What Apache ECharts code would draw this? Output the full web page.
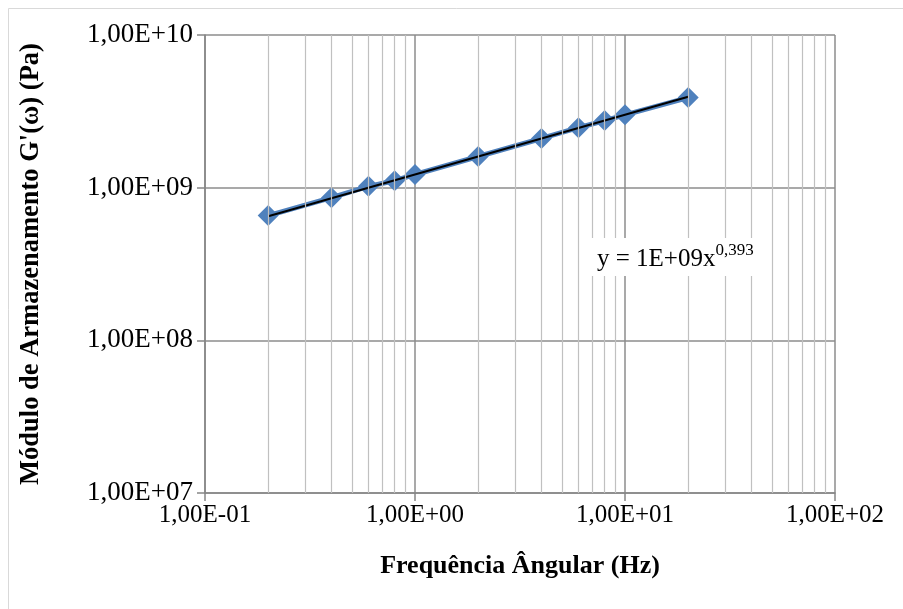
<!DOCTYPE html>
<html><head><meta charset="utf-8">
<script src="https://cdn.jsdelivr.net/npm/echarts@6/dist/echarts.min.js"></script>
<style>html,body{margin:0;padding:0;background:#fff}#c{width:903px;height:609px}</style>
</head><body><div id="c"></div>
<script>
const freq = [0.2, 0.4, 0.6, 0.8, 1, 2, 4, 6, 8, 10, 20];
const modulus = [6.56e8, 8.6e8, 1.02e9, 1.11e9, 1.22e9, 1.6e9, 2.1e9, 2.47e9, 2.75e9, 3.0e9, 3.89e9];
const trendX = [0.2, 20];
const trendY = [6.5e8, 3.94e9];
const minorX = [0.2,0.3,0.4,0.5,0.6,0.7,0.8,0.9,2,3,4,5,6,7,8,9,20,30,40,50,60,70,80,90];
const equation = 'y = 1E+09x';
const exponent = '0,393';
const xTitle = 'Frequência Ângular (Hz)';
const yTitle = "Módulo de Armazenamento G'(ω) (Pa)";

function sci(v){
  const e = Math.round(Math.log10(v));
  const a = Math.abs(e);
  return '1,00E' + (e < 0 ? '-' : '+') + (a < 10 ? '0' + a : '' + a);
}
const font = 'Liberation Serif';
const chart = echarts.init(document.getElementById('c'), null, {renderer:'canvas'});
chart.setOption({
  animation:false,
  backgroundColor:'#fff',
  grid:{left:205,right:68,top:35,bottom:116,containLabel:false},
  xAxis:{
    type:'log', logBase:10, min:0.1, max:100,
    axisLine:{show:true,onZero:false,lineStyle:{color:'#868686',width:1.5}},
    axisTick:{show:true,inside:false,length:8,lineStyle:{color:'#868686',width:1.5}},
    splitLine:{show:true,lineStyle:{color:'#8c8c8c',width:1.5}},
    minorTick:{show:false}, minorSplitLine:{show:false},
    axisLabel:{formatter:sci,fontFamily:font,fontSize:25,color:'#000',margin:10},
    name:xTitle, nameLocation:'middle', nameGap:60,
    nameTextStyle:{fontFamily:font,fontSize:26,fontWeight:'bold',color:'#000'}
  },
  yAxis:{
    type:'log', logBase:10, min:1e7, max:1e10,
    axisLine:{show:true,onZero:false,lineStyle:{color:'#868686',width:1.5}},
    axisTick:{show:true,inside:false,length:8,lineStyle:{color:'#868686',width:1.5}},
    splitLine:{show:true,lineStyle:{color:'#8c8c8c',width:1.5}},
    axisLabel:{formatter:sci,fontFamily:font,fontSize:27,color:'#000',margin:12},
    name:yTitle, nameLocation:'middle', nameGap:160, nameRotate:90,
    nameTextStyle:{fontFamily:font,fontSize:26.5,fontWeight:'bold',color:'#000'}
  },
  series:[
    {
      type:'line', data:[], silent:true, z:1,
      markLine:{
        silent:true, symbol:['none','none'], label:{show:false}, animation:false,
        lineStyle:{color:'#c0c0c0',width:1.2,type:'solid'},
        data:minorX.map(v=>({xAxis:v}))
      }
    },
    {
      type:'line', data:freq.map((f,i)=>[f,modulus[i]]), z:3,
      symbol:'diamond', symbolSize:21,
      lineStyle:{color:'#4F81BD',width:5},
      itemStyle:{color:'#4F81BD'}
    },
    {
      type:'line', data:trendX.map((f,i)=>[f,trendY[i]]), z:4,
      symbol:'none', lineStyle:{color:'#000',width:2}
    }
  ],
  graphic:[
    {type:'rect', z:0, shape:{x:8.5,y:8.5,width:920,height:620}, style:{fill:null,stroke:'#d9d9d9',lineWidth:1}},
    {type:'text', z:10, left:585, top:238,
     style:{
       text:'{m|'+equation+'}{s|'+exponent+'}',
       backgroundColor:'#fff', padding:[4,12,4,12],
       rich:{
         m:{fontFamily:font,fontSize:25,fill:'#000',verticalAlign:'bottom',lineHeight:30},
         s:{fontFamily:font,fontSize:17,fill:'#000',verticalAlign:'top',lineHeight:25}
       }
     }}
  ]
});
</script></body></html>
